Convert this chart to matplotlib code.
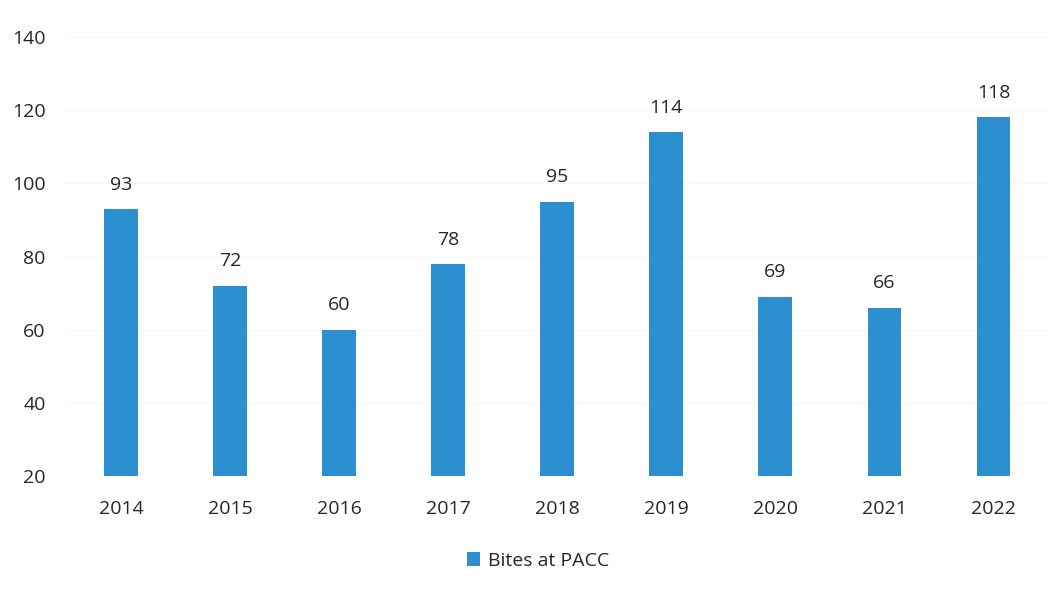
import numpy as np
from matplotlib import pyplot as plt

years = ['2014', '2015', '2016', '2017', '2018', '2019', '2020', '2021', '2022']
bites = [93, 72, 60, 78, 95, 114, 69, 66, 118]
y_ticks = [20, 40, 60, 80, 100, 120, 140]

bar_color = '#2B8FD0'
text_color = '#262626'

plt.rcParams['font.family'] = ['Open Sans', 'DejaVu Sans']

dpi = 100
fig = plt.figure(figsize=(1063 / dpi, 596 / dpi), dpi=dpi)
ax = fig.add_axes([66.5 / 1063, (596 - 476) / 596, (1048 - 66.5) / 1063, (476 - 37) / 596])

x = np.arange(len(years))
bars = ax.bar(x, [b - 20 for b in bites], bottom=20, width=0.31,
              color=bar_color, label='Bites at PACC')

# value labels above each bar
for xx, b in zip(x, bites):
    ax.annotate(str(b), (xx, b), xytext=(0, 11), textcoords='offset points',
                ha='center', va='bottom', fontsize=14, color=text_color)

ax.set_xlim(-0.5, len(years) - 0.5)
ax.set_ylim(20, 140)
ax.set_yticks(y_ticks)
ax.set_xticks(x)
ax.set_xticklabels(years)
ax.tick_params(axis='both', length=0, labelsize=14, labelcolor=text_color)
ax.tick_params(axis='y', pad=15)
ax.tick_params(axis='x', pad=17)
for s in ax.spines.values():
    s.set_visible(False)
ax.grid(axis='y', color='#f6f6f6', linewidth=0.8)
ax.set_axisbelow(True)

fig.legend(handles=[bars], labels=['Bites at PACC'], loc='center',
           bbox_to_anchor=(538 / 1063, 1 - 561 / 596), frameon=False,
           fontsize=14, handlelength=0.7, handleheight=0.7, handletextpad=0.4,
           labelcolor=text_color)

plt.savefig('out.png', dpi=dpi)
plt.close()
